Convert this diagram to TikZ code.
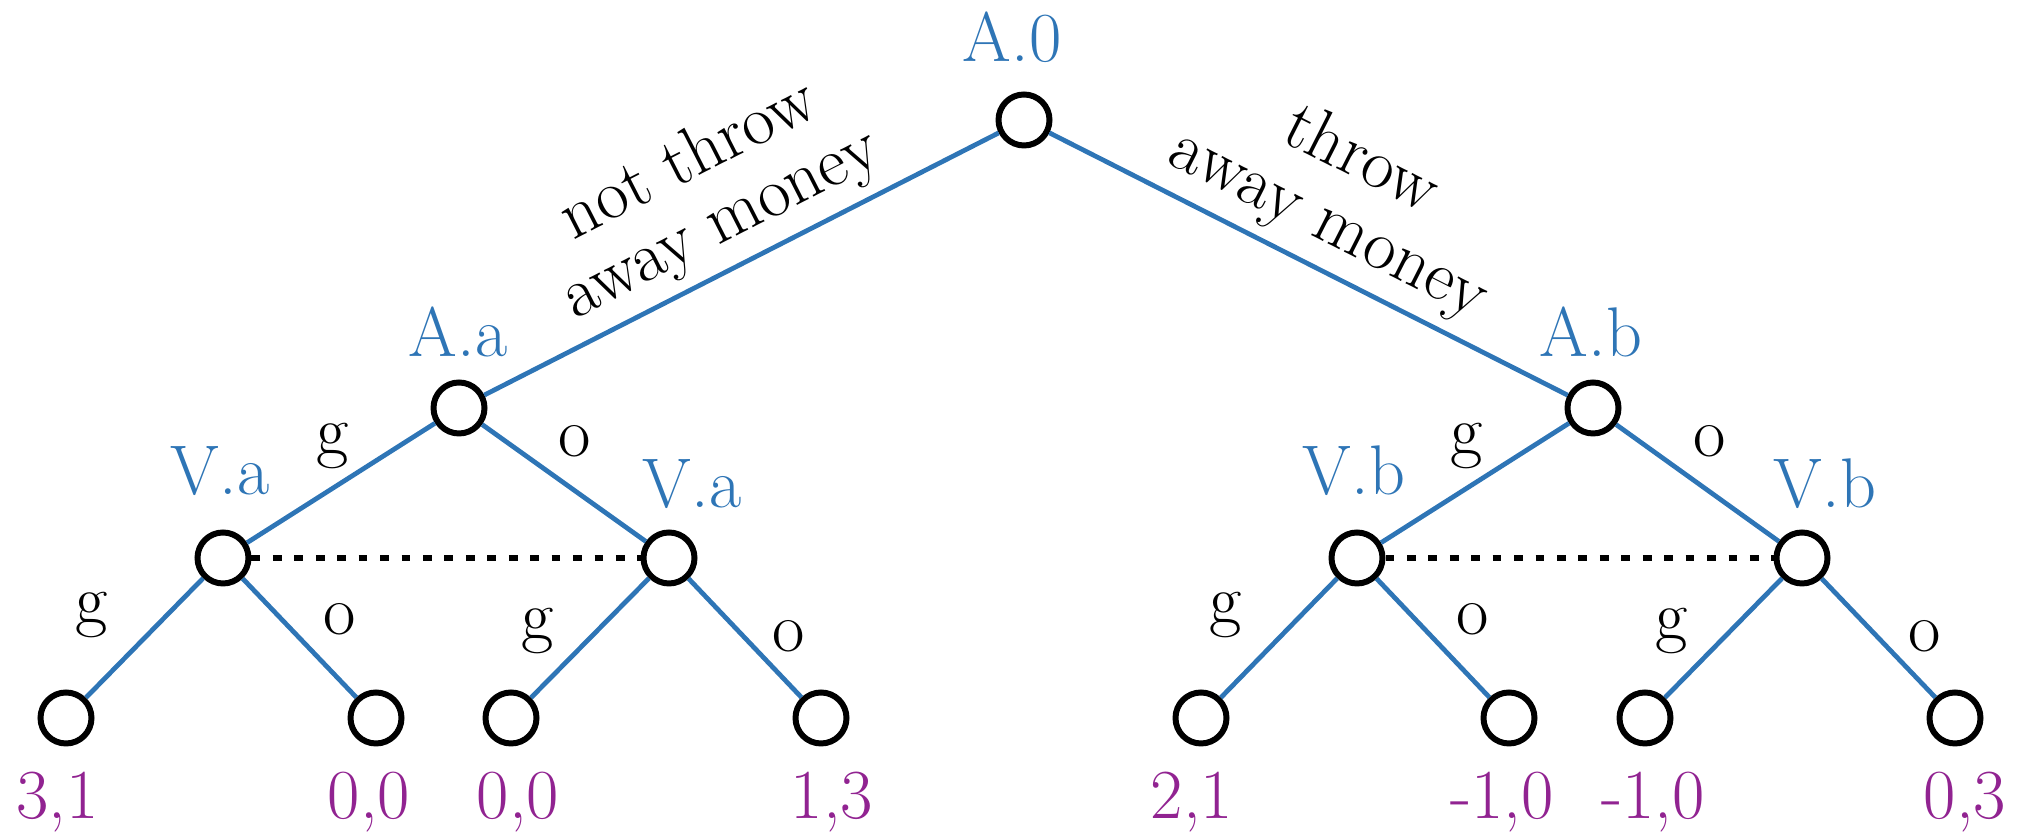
\documentclass[tikz,border=0pt]{standalone}
\usepackage{amsmath,amssymb}
\usepackage{tikz}
\usetikzlibrary{positioning}
\definecolor{treeblue}{RGB}{46,117,182}
\definecolor{payoff}{RGB}{145,35,145}

\begin{document}
\begin{tikzpicture}[
  every node/.style={font=\fontsize{20}{20.2}\selectfont},
  dec/.style={circle, draw=black, line width=1.7pt, minimum size=0.51cm, inner sep=0pt},
  plr/.style={text=treeblue, anchor=base, inner sep=0pt},
  act/.style={inner sep=0pt},
  pay/.style={text=payoff, anchor=base, inner sep=0pt},
  br/.style={draw=treeblue, line width=1.35pt},
  info/.style={draw=black, line width=1.6pt, dash pattern=on 2.5pt off 3.6pt},
  mv/.style={sloped, above=2.8pt, align=center, inner sep=0pt},
]
\useasboundingbox (0,0) rectangle (20.17,8.32);
\node[dec] (A0) at (10.24,7.12) {};
\node[dec] (Aa) at (4.59,4.24) {};
\node[dec] (Ab) at (15.93,4.24) {};
\node[dec] (Va1) at (2.23,2.74) {};
\node[dec] (Va2) at (6.69,2.74) {};
\node[dec] (Vb1) at (13.57,2.74) {};
\node[dec] (Vb2) at (18.02,2.74) {};
\node[dec] (t1) at (0.66,1.14) {};
\node[dec] (t2) at (3.76,1.14) {};
\node[dec] (t3) at (5.11,1.14) {};
\node[dec] (t4) at (8.21,1.14) {};
\node[dec] (t5) at (12.01,1.14) {};
\node[dec] (t6) at (15.09,1.14) {};
\node[dec] (t7) at (16.45,1.14) {};
\node[dec] (t8) at (19.55,1.14) {};
\node[plr] (lA0) at (10.12,7.70) {A.0};
\node[plr] (lAa) at (4.58,4.75) {A.a};
\node[plr] (lAb) at (15.91,4.75) {A.b};
\node[plr] (lVa1) at (2.20,3.37) {V.a};
\node[plr] (lVa2) at (6.92,3.24) {V.a};
\node[plr] (lVb1) at (13.54,3.37) {V.b};
\node[plr] (lVb2) at (18.25,3.24) {V.b};
\draw[br] (A0) -- node[mv] (mNot) {not throw\\away money} (Aa);
\draw[br] (A0) -- node[mv] (mThrow) {throw\\away money} (Ab);
\draw[br] (Aa) -- (Va1);
\draw[br] (Aa) -- (Va2);
\draw[br] (Ab) -- (Vb1);
\draw[br] (Ab) -- (Vb2);
\draw[br] (Va1) -- (t1);
\draw[br] (Va1) -- (t2);
\draw[br] (Va2) -- (t3);
\draw[br] (Va2) -- (t4);
\draw[br] (Vb1) -- (t5);
\draw[br] (Vb1) -- (t6);
\draw[br] (Vb2) -- (t7);
\draw[br] (Vb2) -- (t8);
\draw[info] (Va1) -- (Va2);
\draw[info] (Vb1) -- (Vb2);
\node[act] (gAa) at (3.33,3.86) {g};
\node[act] (oAa) at (5.75,3.91) {o};
\node[act] (gAb) at (14.67,3.86) {g};
\node[act] (oAb) at (17.10,3.91) {o};
\node[act] (gVa1) at (0.92,2.17) {g};
\node[act] (oVa1) at (3.40,2.13) {o};
\node[act] (gVa2) at (5.38,2.01) {g};
\node[act] (oVa2) at (7.89,1.96) {o};
\node[act] (gVb1) at (12.26,2.17) {g};
\node[act] (oVb1) at (14.73,2.13) {o};
\node[act] (gVb2) at (16.72,2.01) {g};
\node[act] (oVb2) at (19.25,1.96) {o};
\node[pay] (p1) at (0.575,0.13) {3,1};
\node[pay] (p2) at (3.69,0.13) {0,0};
\node[pay] (p3) at (5.18,0.13) {0,0};
\node[pay] (p4) at (8.32,0.13) {1,3};
\node[pay] (p5) at (11.92,0.13) {2,1};
\node[pay] (p6) at (15.02,0.13) {-1,0};
\node[pay] (p7) at (16.53,0.13) {-1,0};
\node[pay] (p8) at (19.65,0.13) {0,3};
\end{tikzpicture}
\end{document}
